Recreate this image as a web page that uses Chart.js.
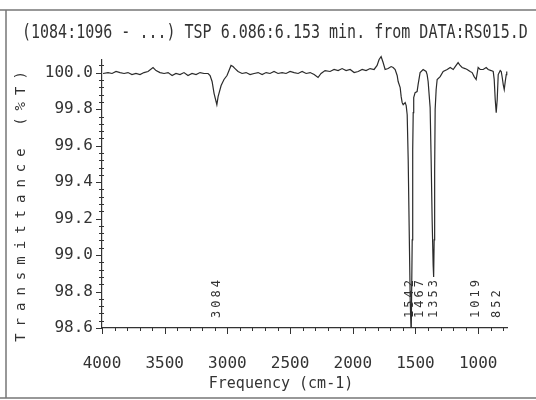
<!DOCTYPE html>
<html>
<head>
<meta charset="utf-8">
<script src="https://cdn.jsdelivr.net/npm/chart.js@4.4.1/dist/chart.umd.min.js"></script>
<style>
  html, body { margin: 0; padding: 0; background: #fff; }
  #wrap { width: 536px; height: 400px; }
</style>
</head>
<body>
<div id="wrap"><canvas id="irChart" width="536" height="400"></canvas></div>
<script>
/* global Chart */

// spectrum: wavenumber (cm-1) and transmittance (%T)
const wavenumbers = [
  3992, 3952, 3920, 3888, 3856, 3824, 3793, 3761, 3729, 3697, 3665, 3633, 3593, 3569, 3537, 3505,
  3473, 3441, 3410, 3378, 3346, 3314, 3282, 3250, 3218, 3186, 3154, 3138, 3122, 3106, 3084, 3074,
  3050, 3027, 3003, 2987, 2971, 2955, 2939, 2915, 2883, 2851, 2819, 2787, 2755, 2723, 2691, 2660,
  2628, 2596, 2564, 2532, 2500, 2468, 2436, 2404, 2372, 2340, 2308, 2277, 2253, 2221, 2181, 2149,
  2117, 2085, 2053, 2021, 1989, 1957, 1925, 1894, 1862, 1830, 1806, 1790, 1774, 1758, 1742, 1718,
  1694, 1678, 1662, 1646, 1638, 1622, 1614, 1606, 1598, 1582, 1574, 1566, 1558, 1550, 1542, 1534,
  1526, 1522, 1518, 1514, 1503, 1487, 1479, 1463, 1439, 1415, 1407, 1399, 1391, 1383, 1375, 1367,
  1359, 1355, 1351, 1347, 1343, 1335, 1327, 1303, 1279, 1247, 1223, 1199, 1183, 1160, 1144, 1128,
  1104, 1088, 1064, 1048, 1032, 1016, 1000, 984, 960, 936, 920, 896, 880, 872, 864, 856,
  848, 840, 824, 816, 808, 800, 792, 784, 776, 772
]
const transmittance = [
  99.996, 100.001, 99.996, 100.007, 100.001, 99.996, 100.001, 99.990, 99.996, 99.990, 100.001, 100.007, 100.029, 100.012, 100.001, 99.996,
  100.001, 99.985, 99.996, 99.990, 100.001, 99.985, 99.996, 99.990, 100.001, 99.996, 99.996, 99.985, 99.952, 99.886, 99.825, 99.869,
  99.930, 99.963, 99.985, 100.012, 100.040, 100.034, 100.023, 100.007, 99.996, 100.001, 99.990, 99.996, 100.001, 99.990, 100.001, 99.996,
  100.007, 99.996, 100.001, 99.996, 100.007, 100.001, 99.996, 100.007, 99.996, 100.001, 99.990, 99.974, 99.996, 100.012, 100.007, 100.018,
  100.012, 100.023, 100.012, 100.018, 100.001, 100.007, 100.018, 100.012, 100.023, 100.018, 100.040, 100.073, 100.089, 100.056, 100.018, 100.023,
  100.034, 100.029, 100.018, 99.985, 99.952, 99.919, 99.869, 99.836, 99.825, 99.836, 99.820, 99.770, 99.523, 99.137, 98.754, 98.560,
  99.083, 99.578, 99.781, 99.864, 99.891, 99.897, 99.935, 100.001, 100.018, 100.007, 99.990, 99.952, 99.880, 99.809, 99.523, 99.193,
  98.946, 98.880, 99.083, 99.468, 99.798, 99.908, 99.963, 99.979, 100.007, 100.018, 100.029, 100.018, 100.034, 100.056, 100.040, 100.029,
  100.023, 100.018, 100.007, 100.001, 99.979, 99.963, 100.029, 100.018, 100.018, 100.029, 100.018, 100.012, 100.007, 99.963, 99.853, 99.781,
  99.853, 99.990, 100.012, 100.007, 99.974, 99.935, 99.908, 99.952, 99.990, 100.007
]

const peakLabels = [3084, 1542, 1467, 1353, 1019, 852]
const xTickValues = [4000, 3500, 3000, 2500, 2000, 1500, 1000]
const yTickValues = [100.0, 99.8, 99.6, 99.4, 99.2, 99.0, 98.8, 98.6]

const titleText = '(1084:1096 - ...) TSP 6.086:6.153 min. from DATA:RS015.D'
const xTitle = 'Frequency (cm-1)'
const yTitle = 'Transmittance (%T)'

const ink = '#333333'
const monoFont = '"DejaVu Sans Mono", monospace'

function drawMinorTicks (ctx, xScale, yScale, area) {
  ctx.strokeStyle = ink
  ctx.lineWidth = 1
  ctx.beginPath()
  for (let v = 800; v <= 4000; v += 100) {
    const x = Math.round(xScale.getPixelForValue(v)) + 0.5
    const len = v % 500 === 0 ? 6 : 3
    ctx.moveTo(x, area.bottom)
    ctx.lineTo(x, area.bottom + len)
  }
  for (let i = 0; i <= 36; i++) {
    const v = 98.6 + i * 0.04
    const y = Math.round(yScale.getPixelForValue(v)) + 0.5
    const major = i % 5 === 0
    ctx.moveTo(area.left - (major ? 6 : 3), y)
    ctx.lineTo(area.left + (major ? 0 : 2), y)
  }
  ctx.stroke()
}

const decorPlugin = {
  id: 'decor',
  afterDraw (chart) {
    const { ctx, chartArea: area } = chart
    const xScale = chart.scales.x
    const yScale = chart.scales.y
    ctx.save()

    // page frame of the scanned print
    ctx.strokeStyle = '#777'
    ctx.lineWidth = 1.5
    ctx.beginPath()
    ctx.moveTo(0, 10)
    ctx.lineTo(536, 10)
    ctx.moveTo(6, 10)
    ctx.lineTo(6, 398)
    ctx.moveTo(0, 398)
    ctx.lineTo(536, 398)
    ctx.stroke()

    drawMinorTicks(ctx, xScale, yScale, area)

    ctx.fillStyle = ink

    // header line
    ctx.save()
    ctx.font = `15px ${monoFont}`
    ctx.textBaseline = 'alphabetic'
    ctx.translate(22, 38)
    ctx.scale(1, 1.25)
    ctx.fillText(titleText, 0, 0)
    ctx.restore()

    // x axis title
    ctx.save()
    ctx.font = `15px ${monoFont}`
    ctx.textAlign = 'center'
    ctx.textBaseline = 'middle'
    ctx.fillText(xTitle, 281, 384)
    ctx.restore()

    // y axis title, spaced out
    ctx.save()
    ctx.font = `14px ${monoFont}`
    ctx.textAlign = 'center'
    ctx.textBaseline = 'middle'
    ctx.translate(21, 206)
    ctx.rotate(-Math.PI / 2)
    if ('letterSpacing' in ctx) {
      ctx.letterSpacing = '7px'
      ctx.fillText(yTitle, 3, 0)
    } else {
      ctx.fillText(yTitle.split('').join(' '), 0, 0)
    }
    ctx.restore()

    // peak labels
    ctx.save()
    ctx.font = `12px ${monoFont}`
    ctx.textAlign = 'left'
    ctx.textBaseline = 'middle'
    if ('letterSpacing' in ctx) ctx.letterSpacing = '3px'
    peakLabels.forEach((wn) => {
      const x = xScale.getPixelForValue(wn)
      ctx.save()
      ctx.translate(x, 318)
      ctx.rotate(-Math.PI / 2)
      ctx.fillText(String(wn), 0, 0)
      ctx.restore()
    })
    ctx.restore()

    ctx.restore()
  }
}

const ctx = document.getElementById('irChart').getContext('2d')
const irChart = new Chart(ctx, {
  type: 'line',
  data: {
    datasets: [{
      data: wavenumbers.map((wn, i) => ({ x: wn, y: transmittance[i] })),
      borderColor: '#2b2b2b',
      borderWidth: 1.2,
      pointRadius: 0,
      tension: 0,
      clip: { left: 0, top: 8, right: 4, bottom: 0 }
    }]
  },
  options: {
    responsive: false,
    animation: false,
    layout: { padding: { top: 60, right: 29, left: 0, bottom: 0 } },
    plugins: {
      legend: { display: false },
      tooltip: { enabled: false }
    },
    scales: {
      x: {
        type: 'linear',
        reverse: true,
        min: 770,
        max: 4000,
        afterBuildTicks: (s) => { s.ticks = xTickValues.map((v) => ({ value: v })) },
        afterFit: (s) => { s.height = 72 },
        grid: { display: false, drawTicks: false },
        border: { color: ink, width: 1.2 },
        ticks: {
          color: ink,
          font: { family: monoFont, size: 16 },
          padding: 26,
          maxRotation: 0,
          autoSkip: false,
          callback: (v) => String(v)
        }
      },
      y: {
        min: 98.6,
        max: 100.07,
        afterBuildTicks: (s) => { s.ticks = yTickValues.map((v) => ({ value: v })) },
        afterFit: (s) => { s.width = 102 },
        grid: { display: false, drawTicks: false },
        border: { color: ink, width: 1.2 },
        ticks: {
          color: ink,
          font: { family: monoFont, size: 16 },
          padding: 9,
          autoSkip: false,
          callback: (v) => Number(v).toFixed(1)
        }
      }
    }
  },
  plugins: [decorPlugin]
})
</script>
</body>
</html>
